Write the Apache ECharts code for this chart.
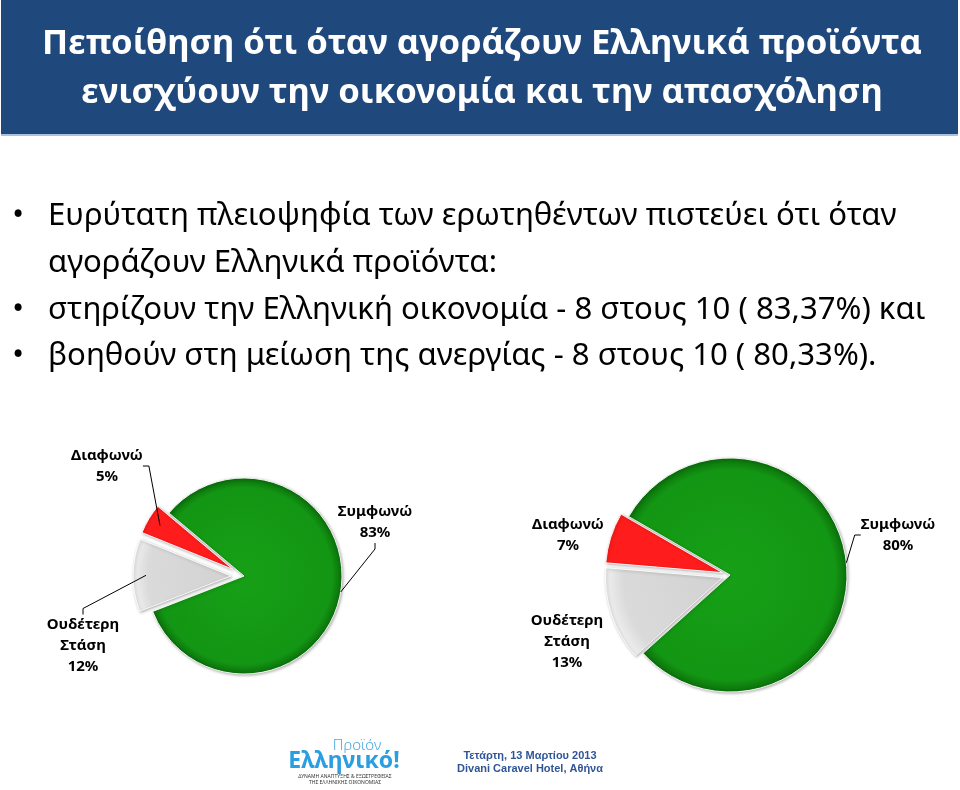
<!DOCTYPE html>
<html>
<head>
<meta charset="utf-8">
<script src="https://cdn.jsdelivr.net/npm/echarts@6/dist/echarts.min.js"></script>
<style>
html,body{margin:0;padding:0;background:#fff;}
#main{width:960px;height:790px;}
</style>
</head>
<body>
<div id="main"></div>
<script>
// ---- data ----
const categories = ['Συμφωνώ', 'Ουδέτερη Στάση', 'Διαφωνώ'];
const economyValues = [83, 12, 5];      // στηρίζουν την Ελληνική οικονομία
const employmentValues = [80, 13, 7];   // βοηθούν στη μείωση της ανεργίας
const titleLines = ['Πεποίθηση ότι όταν αγοράζουν Ελληνικά προϊόντα', 'ενισχύουν την οικονομία και την απασχόληση'];
const bodyLines = [
  {text: 'Ευρύτατη πλειοψηφία των ερωτηθέντων πιστεύει ότι όταν', bullet: true},
  {text: 'αγοράζουν Ελληνικά προϊόντα:', bullet: false},
  {text: 'στηρίζουν την Ελληνική οικονομία - 8 στους 10 ( 83,37%) και', bullet: true},
  {text: 'βοηθούν στη μείωση της ανεργίας - 8 στους 10 ( 80,33%).', bullet: true}
];
const footerLines = ['Τετάρτη, 13 Μαρτίου 2013', 'Divani Caravel Hotel, Αθήνα'];
const logoLines = ['Προϊόν', 'Ελληνικό!', 'ΔΥΝΑΜΗ ΑΝΑΠΤΥΞΗΣ & ΕΞΩΣΤΡΕΦΕΙΑΣ', 'ΤΗΣ ΕΛΛΗΝΙΚΗΣ ΟΙΚΟΝΟΜΙΑΣ'];

// ---- helpers ----
const mctx = document.createElement('canvas').getContext('2d');
function fitSize(text, weight, family, target) {
  mctx.font = weight + ' 100px ' + family;
  return 100 * target / mctx.measureText(text).width;
}
const FAM = '"Noto Sans", sans-serif';
const titleSize = fitSize(titleLines[0], 'bold', FAM, 880);
const bodySize = fitSize(bodyLines[0].text, 'normal', FAM, 849);
const MID = 0.285;

function sliceColor(i, cx, cy, r) {
  if (i === 0) {
    return {type: 'radial', x: cx, y: cy, r: r, global: true,
      colorStops: [{offset: 0, color: '#17a017'}, {offset: 0.9, color: '#139613'}, {offset: 1, color: '#0b6f0b'}]};
  } else if (i === 1) {
    return {type: 'radial', x: cx, y: cy, r: r, global: true,
      colorStops: [{offset: 0, color: '#d2d2d2'}, {offset: 0.85, color: '#dadada'}, {offset: 1, color: '#efefef'}]};
  }
  return '#ff1c1c';
}

// drawn slices (Ουδέτερη & Διαφωνώ exploded via selection)
function pieSeries(values, center, radius, startAngle, offset) {
  return {
    type: 'pie',
    center: center,
    radius: radius,
    startAngle: startAngle,
    clockwise: true,
    selectedMode: 'multiple',
    selectedOffset: offset,
    silent: true,
    z: 2,
    data: categories.map((name, i) => ({
      name: name, value: values[i], selected: i !== 0,
      itemStyle: {color: sliceColor(i, center[0], center[1], radius)}
    })),
    itemStyle: {borderColor: 'rgba(255,255,255,0.9)', borderWidth: 1, shadowBlur: 3, shadowColor: 'rgba(0,0,0,0.3)', shadowOffsetX: 1, shadowOffsetY: 1},
    select: {itemStyle: {borderColor: 'rgba(255,255,255,0.9)', borderWidth: 1}},
    label: {show: false},
    labelLine: {show: false}
  };
}

// label-only overlay of the same data
function labelSeries(values, center, radius, startAngle, pos, lines) {
  return {
    type: 'pie',
    center: center,
    radius: radius,
    startAngle: startAngle,
    clockwise: true,
    silent: true,
    avoidLabelOverlap: false,
    z: 3,
    data: categories.map((name, i) => ({
      name: name, value: values[i], labelLine: {show: lines[i]}
    })),
    itemStyle: {color: 'rgba(0,0,0,0)', borderWidth: 0},
    label: {
      show: true,
      position: 'outside',
      formatter: p => p.name.replace(' ', '\n') + '\n' + p.percent + '%',
      fontFamily: FAM, fontWeight: 'bold', fontSize: 15, lineHeight: 21,
      color: '#000', align: 'center'
    },
    labelLine: {show: true, length: 8, length2: 6, lineStyle: {color: '#000', width: 1}},
    labelLayout: function (params) {
      const p = pos[params.dataIndex];
      return {x: p[0], y: p[1], align: 'center', verticalAlign: 'middle'};
    }
  };
}

const graphics = [];
graphics.push({type: 'rect', shape: {x: 1, y: 0, width: 957, height: 134}, style: {fill: '#1f497d'}});
graphics.push({type: 'rect', shape: {x: 1, y: 134, width: 957, height: 2}, style: {fill: '#a9c2df'}});
const titleBase = [54, 103];
titleLines.forEach((t, i) => {
  graphics.push({type: 'text', x: 482, y: titleBase[i] - MID * titleSize,
    style: {text: t, font: 'bold ' + titleSize.toFixed(2) + 'px ' + FAM, fill: '#ffffff', align: 'center', verticalAlign: 'middle'}});
});
const bodyBase = [225, 272, 319, 365];
bodyLines.forEach((l, i) => {
  const y = bodyBase[i] - MID * bodySize;
  if (l.bullet) {
    graphics.push({type: 'text', x: 18, y: y, style: {text: '•', font: 'normal ' + bodySize.toFixed(2) + 'px ' + FAM, fill: '#000', align: 'center', verticalAlign: 'middle'}});
  }
  graphics.push({type: 'text', x: 48, y: y, style: {text: l.text, font: 'normal ' + bodySize.toFixed(2) + 'px ' + FAM, fill: '#000', align: 'left', verticalAlign: 'middle'}});
});
// footer logo
graphics.push({type: 'text', x: 357, y: 746, style: {text: logoLines[0], font: '300 15px ' + FAM, fill: '#49a9e0', align: 'center', verticalAlign: 'middle'}});
graphics.push({type: 'text', x: 344, y: 761, style: {text: logoLines[1], font: 'bold 23px ' + FAM, fill: '#2a9ee0', align: 'center', verticalAlign: 'middle'}});
graphics.push({type: 'text', x: 345, y: 777, style: {text: logoLines[2], font: 'normal 5px ' + FAM, fill: '#333', align: 'center', verticalAlign: 'middle'}});
graphics.push({type: 'text', x: 345, y: 783, style: {text: logoLines[3], font: 'normal 5px ' + FAM, fill: '#333', align: 'center', verticalAlign: 'middle'}});
// footer date
graphics.push({type: 'text', x: 530, y: 756, style: {text: footerLines[0], font: 'bold 11px "Liberation Sans", Arial, sans-serif', fill: '#2f5597', align: 'center', verticalAlign: 'middle'}});
graphics.push({type: 'text', x: 530, y: 769, style: {text: footerLines[1], font: 'bold 11px "Liberation Sans", Arial, sans-serif', fill: '#2f5597', align: 'center', verticalAlign: 'middle'}});

const leftCenter = [244, 576], leftR = 98, leftStart = 140;
const rightCenter = [730, 575], rightR = 117, rightStart = 150;
const leftPos = [[375, 522], [83, 646], [107, 466]];
const rightPos = [[898, 535], [567, 642], [568, 535]];

const chart = echarts.init(document.getElementById('main'), null, {renderer: 'canvas'});
chart.setOption({
  animation: false,
  backgroundColor: '#ffffff',
  graphic: graphics,
  series: [
    pieSeries(economyValues, leftCenter, leftR, leftStart, 13),
    pieSeries(employmentValues, rightCenter, rightR, rightStart, 8),
    labelSeries(economyValues, leftCenter, leftR, leftStart, leftPos, [true, true, true]),
    labelSeries(employmentValues, rightCenter, rightR, rightStart, rightPos, [true, false, false])
  ]
});
</script>
</body>
</html>
